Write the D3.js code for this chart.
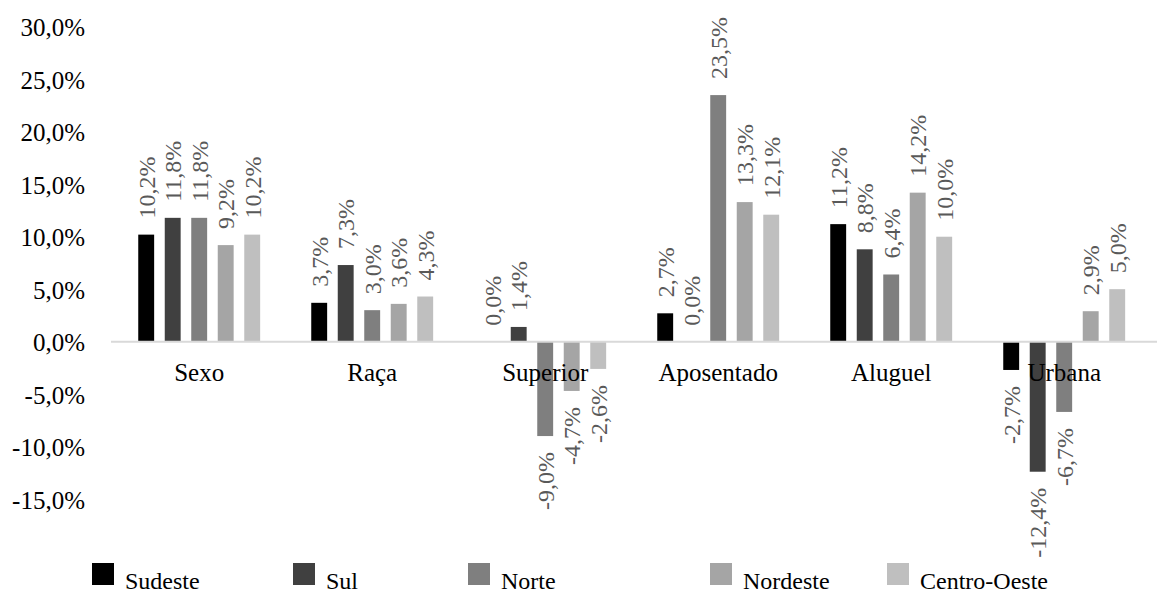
<!DOCTYPE html>
<html>
<head>
<meta charset="utf-8">
<script src="https://cdn.jsdelivr.net/npm/d3@7"></script>
<style>
  html, body { margin: 0; padding: 0; background: #fff; }
  svg { display: block; }
  svg text { font-family: "Liberation Serif", "Times New Roman", serif; }
</style>
</head>
<body>
<svg id="chart" width="1157" height="593"></svg>
<script>
// ---- data ----
const categories = ["Sexo", "Raça", "Superior", "Aposentado", "Aluguel", "Urbana"];
const seriesNames = ["Sudeste", "Sul", "Norte", "Nordeste", "Centro-Oeste"];
const sudeste     = [10.2, 3.7,  0.0,  2.7, 11.2,  -2.7];
const sul         = [11.8, 7.3,  1.4,  0.0,  8.8, -12.4];
const norte       = [11.8, 3.0, -9.0, 23.5,  6.4,  -6.7];
const nordeste    = [ 9.2, 3.6, -4.7, 13.3, 14.2,   2.9];
const centroOeste = [10.2, 4.3, -2.6, 12.1, 10.0,   5.0];
const yTicks = [30, 25, 20, 15, 10, 5, 0, -5, -10, -15];

// ---- styles / layout ----
const colors = ["#000000", "#404040", "#7f7f7f", "#a5a5a5", "#bfbfbf"];
const legendSquareX = [92, 293, 468, 710, 887];
const FONT = "Liberation Serif, Times New Roman, serif";

const seriesValues = [sudeste, sul, norte, nordeste, centroOeste];
const locale = d3.formatLocale({decimal: ",", thousands: ".", grouping: [3], currency: ["", ""], minus: "-"});
const fmt = locale.format(".1f");

const svg = d3.select("#chart").attr("font-family", FONT);

const x0 = d3.scaleBand().domain(categories).range([112.7, 1150.7]).padding(0);
const x1 = d3.scaleBand().domain(seriesNames).range([0, x0.bandwidth()])
  .paddingInner(0.4).paddingOuter(0.964);
const y = d3.scaleLinear().domain([-15, 30]).range([499, 26.9]);

// y axis labels
const yAxis = d3.axisLeft(y).tickValues(yTicks).tickSize(0).tickPadding(0)
  .tickFormat(d => fmt(d) + "%");
const gy = svg.append("g").attr("transform", "translate(85,1)").call(yAxis)
  .attr("font-family", FONT);
gy.select(".domain").remove();
gy.selectAll("text").attr("font-size", 25).attr("fill", "#000");

// bars
const groups = svg.append("g").selectAll("g")
  .data(categories)
  .join("g")
  .attr("transform", d => `translate(${x0(d)},0)`);

groups.selectAll("rect")
  .data((c, i) => seriesNames.map((s, j) => ({s, j, v: seriesValues[j][i]})))
  .join("rect")
  .attr("x", d => x1(d.s))
  .attr("width", x1.bandwidth())
  .attr("y", d => y(Math.max(0, d.v)))
  .attr("height", d => Math.abs(y(d.v) - y(0)))
  .attr("fill", d => colors[d.j]);

// zero line
svg.append("line")
  .attr("x1", 111).attr("x2", 1157)
  .attr("y1", y(0)).attr("y2", y(0))
  .attr("stroke", "#d9d9d9").attr("stroke-width", 2);

// value labels
groups.selectAll("text.val")
  .data((c, i) => seriesNames.map((s, j) => ({s, j, v: seriesValues[j][i]})))
  .join("text")
  .attr("class", "val")
  .attr("transform", d => {
    const cx = x1(d.s) + x1.bandwidth() / 2;
    const yy = d.v >= 0 ? y(d.v) - 16 : y(d.v) + 16;
    return `translate(${cx},${yy}) rotate(-90)`;
  })
  .attr("text-anchor", d => d.v >= 0 ? "start" : "end")
  .attr("dy", "0.35em")
  .attr("font-size", 24)
  .attr("font-family", FONT)
  .attr("fill", "#595959")
  .text(d => fmt(d.v) + "%");

// category labels
svg.append("g").selectAll("text")
  .data(categories)
  .join("text")
  .attr("x", d => x0(d) + x0.bandwidth() / 2)
  .attr("y", 381)
  .attr("text-anchor", "middle")
  .attr("font-size", 25)
  .attr("font-family", FONT)
  .attr("fill", "#000")
  .text(d => d);

// legend
const lg = svg.append("g").selectAll("g")
  .data(seriesNames)
  .join("g")
  .attr("transform", (d, i) => `translate(${legendSquareX[i]},0)`);
lg.append("rect").attr("x", 0).attr("y", 563).attr("width", 22).attr("height", 22)
  .attr("fill", (d, i) => colors[i]);
lg.append("text").attr("x", 33).attr("y", 589).attr("font-size", 24)
  .attr("font-family", FONT).attr("fill", "#000")
  .text(d => d);
</script>
</body>
</html>
